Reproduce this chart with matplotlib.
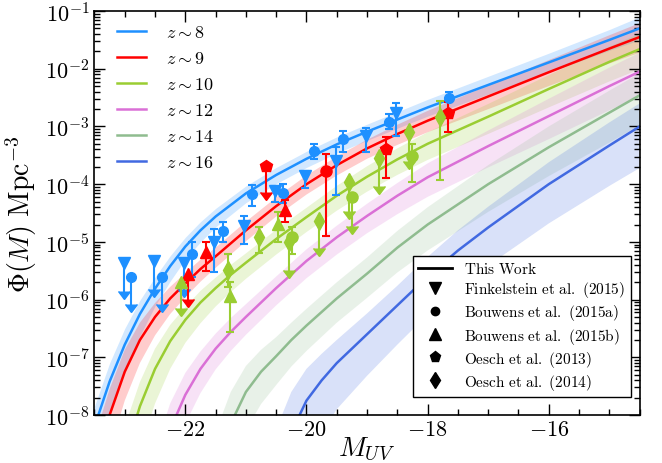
import numpy as np
import matplotlib
matplotlib.use("Agg")
import matplotlib.pyplot as plt
from matplotlib.lines import Line2D

plt.rcParams['mathtext.fontset'] = 'cm'
plt.rcParams['font.family'] = 'serif'
plt.rcParams['font.serif'] = ['cmr10', 'DejaVu Serif']
plt.rcParams['axes.formatter.use_mathtext'] = True

# ---- model curves (log10 Phi), band offsets in dex ----
m_z8 = [-23.5, -23.25, -23.0, -22.75, -22.5, -22.25, -22.0, -21.75, -21.5, -21.0, -20.5, -20.0, -19.5, -19.0, -18.0, -17.0, -16.0, -15.0, -14.5]
phi_z8 = [-8.2, -7.42, -6.78, -6.25, -5.81, -5.42, -5.08, -4.8, -4.56, -4.16, -3.84, -3.56, -3.31, -3.09, -2.67, -2.28, -1.89, -1.5, -1.3]
hi_z8 = [0.35, 0.32, 0.28, 0.24, 0.2, 0.18, 0.16, 0.15, 0.14, 0.13, 0.13, 0.13, 0.13, 0.13, 0.14, 0.15, 0.16, 0.18, 0.2]
lo_z8 = [0.6, 0.55, 0.45, 0.38, 0.3, 0.26, 0.22, 0.2, 0.18, 0.16, 0.15, 0.15, 0.15, 0.15, 0.15, 0.16, 0.17, 0.18, 0.2]

m_z9 = [-23.5, -23.25, -23.0, -22.75, -22.5, -22.25, -22.0, -21.75, -21.5, -21.0, -20.5, -20.0, -19.5, -19.0, -18.5, -18.0, -17.0, -16.0, -15.0, -14.5]
phi_z9 = [-8.9, -8.0, -7.25, -6.7, -6.3, -5.98, -5.72, -5.47, -5.25, -4.8, -4.38, -4.0, -3.67, -3.38, -3.13, -2.9, -2.48, -2.06, -1.65, -1.45]
hi_z9 = [0.5, 0.45, 0.38, 0.3, 0.24, 0.2, 0.18, 0.16, 0.15, 0.15, 0.15, 0.15, 0.15, 0.15, 0.16, 0.17, 0.19, 0.21, 0.23, 0.24]
lo_z9 = [0.7, 0.62, 0.5, 0.4, 0.32, 0.27, 0.24, 0.22, 0.2, 0.19, 0.18, 0.18, 0.18, 0.18, 0.19, 0.2, 0.22, 0.24, 0.26, 0.27]

m_z10 = [-23.25, -23.0, -22.75, -22.5, -22.25, -22.0, -21.75, -21.5, -21.25, -21.0, -20.5, -20.0, -19.5, -19.0, -18.5, -18.0, -17.0, -16.0, -15.0, -14.5]
phi_z10 = [-9.6, -8.7, -7.85, -7.2, -6.72, -6.35, -6.05, -5.8, -5.57, -5.36, -4.95, -4.57, -4.2, -3.87, -3.57, -3.3, -2.83, -2.35, -1.88, -1.66]
hi_z10 = [0.55, 0.5, 0.42, 0.35, 0.28, 0.22, 0.2, 0.18, 0.17, 0.16, 0.16, 0.16, 0.17, 0.18, 0.19, 0.2, 0.22, 0.24, 0.26, 0.27]
lo_z10 = [1.0, 0.9, 0.75, 0.6, 0.48, 0.4, 0.36, 0.32, 0.3, 0.28, 0.27, 0.26, 0.26, 0.26, 0.27, 0.28, 0.3, 0.32, 0.34, 0.35]

m_z12 = [-22.75, -22.5, -22.25, -22.0, -21.75, -21.5, -21.25, -21.0, -20.5, -20.0, -19.5, -19.0, -18.5, -18.0, -17.0, -16.0, -15.0, -14.5]
phi_z12 = [-10.0, -9.1, -8.25, -7.65, -7.2, -6.85, -6.56, -6.3, -5.8, -5.33, -4.92, -4.55, -4.2, -3.88, -3.34, -2.82, -2.3, -2.05]
hi_z12 = [0.6, 0.5, 0.45, 0.38, 0.3, 0.26, 0.24, 0.22, 0.2, 0.2, 0.2, 0.21, 0.22, 0.24, 0.27, 0.3, 0.32, 0.33]
lo_z12 = [0.8, 0.7, 0.6, 0.5, 0.42, 0.36, 0.33, 0.31, 0.3, 0.3, 0.3, 0.3, 0.32, 0.34, 0.37, 0.4, 0.42, 0.43]

m_z14 = [-21.75, -21.5, -21.25, -21.0, -20.75, -20.5, -20.25, -20.0, -19.5, -19.0, -18.5, -18.0, -17.0, -16.0, -15.0, -14.5]
phi_z14 = [-10.0, -9.0, -8.15, -7.6, -7.25, -6.98, -6.7, -6.45, -5.98, -5.55, -5.1, -4.7, -4.0, -3.36, -2.76, -2.46]
hi_z14 = [0.8, 0.7, 0.55, 0.45, 0.38, 0.33, 0.3, 0.29, 0.28, 0.28, 0.29, 0.3, 0.33, 0.36, 0.38, 0.38]
lo_z14 = [1.1, 0.95, 0.8, 0.66, 0.56, 0.5, 0.46, 0.44, 0.42, 0.42, 0.43, 0.45, 0.48, 0.5, 0.52, 0.52]

m_z16 = [-20.75, -20.5, -20.25, -20.0, -19.75, -19.5, -19.0, -18.5, -18.0, -17.5, -17.0, -16.0, -15.0, -14.5]
phi_z16 = [-10.0, -9.1, -8.3, -7.75, -7.4, -7.1, -6.6, -6.1, -5.6, -5.15, -4.75, -4.0, -3.33, -3.0]
hi_z16 = [1.0, 0.85, 0.7, 0.55, 0.46, 0.4, 0.36, 0.34, 0.34, 0.35, 0.36, 0.38, 0.4, 0.4]
lo_z16 = [1.8, 1.6, 1.35, 1.1, 0.92, 0.8, 0.72, 0.68, 0.66, 0.66, 0.66, 0.68, 0.7, 0.72]

# ---- observations (log10 Phi, errors in dex) ----
fink8_m = [-23.02, -22.51, -22.02, -21.52, -21.03, -20.52, -20.02, -19.52, -19.01, -18.52]
fink8_phi = [-5.36, -5.33, -5.36, -5.01, -4.72, -4.11, -3.85, -3.59, -3.16, -2.76]
fink8_hi = [0, 0, 0, 0.23, 0.17, 0.08, 0.08, 0.23, 0.14, 0.16]
fink8_lo = [0.63, 0.63, 0.6, 0.52, 0.32, 0.19, 0.21, 0.6, 0.29, 0.4]
fink8_ul = [True, True, True, False, False, False, False, False, False, False]

bouw8_m = [-22.89, -22.39, -21.89, -21.38, -20.9, -20.39, -19.88, -19.39, -18.63, -17.64]
bouw8_phi = [-5.6, -5.6, -5.21, -4.81, -4.17, -4.15, -3.42, -3.22, -2.92, -2.5]
bouw8_hi = [0, 0, 0.2, 0.15, 0.15, 0.15, 0.12, 0.15, 0.13, 0.1]
bouw8_lo = [0.62, 0.62, 0.4, 0.19, 0.2, 0.17, 0.14, 0.23, 0.13, 0.08]
bouw8_ul = [True, True, False, False, False, False, False, False, False, False]

oesch13_9_m = [-20.67, -18.68, -17.67]
oesch13_9_phi = [-3.68, -3.39, -2.76]
oesch13_9_hi = [0, 0.2, 0.19]
oesch13_9_lo = [0.6, 0.51, 0.34]
oesch13_9_ul = [True, False, False]

bouwb9_m = [-21.95, -21.66, -20.35]
bouwb9_phi = [-5.56, -5.18, -4.44]
bouwb9_hi = [0, 0.18, 0.17]
bouwb9_lo = [0.57, 0.32, 0.21]
bouwb9_ul = [True, False, False]

bouw9_m = [-19.67]
bouw9_phi = [-3.77]
bouw9_hi = [0.29]
bouw9_lo = [1.13]
bouw9_ul = [False]

bouwb10_m = [-22.07, -21.27, -20.47]
bouwb10_phi = [-5.69, -5.93, -4.69]
bouwb10_hi = [0, 0.23, 0.2]
bouwb10_lo = [0.6, 0.64, 0.31]
bouwb10_ul = [True, False, False]

oesch14_10_m = [-21.3, -20.79, -20.29, -19.8, -19.29, -18.8, -18.3, -17.8]
oesch14_10_phi = [-5.48, -4.92, -5.01, -4.63, -3.97, -3.54, -3.1, -2.84]
oesch14_10_hi = [0.27, 0.17, 0, 0, 0, 0, 0, 0.29]
oesch14_10_lo = [0.3, 0.27, 0.61, 0.61, 0.63, 0.63, 0.64, 1.08]
oesch14_10_ul = [False, False, True, True, True, True, True, False]

bouw10_m = [-20.24, -19.25, -18.25]
bouw10_phi = [-4.92, -4.23, -3.52]
bouw10_hi = [0.17, 0, 0.22]
bouw10_lo = [0.29, 0.63, 0.44]
bouw10_ul = [False, True, False]

c8, c9, c10 = '#1E90FF', '#FF0000', '#9ACD32'
c12, c14, c16 = '#DA70D6', '#8FBC8F', '#4169E1'

fig = plt.figure(figsize=(6.62, 4.64), dpi=100)
ax = fig.add_axes([0.1427, 0.1034, 0.8235, 0.8706])

curves = [(m_z8, phi_z8, hi_z8, lo_z8, c8, r'$z\sim8$'),
          (m_z9, phi_z9, hi_z9, lo_z9, c9, r'$z\sim9$'),
          (m_z10, phi_z10, hi_z10, lo_z10, c10, r'$z\sim10$'),
          (m_z12, phi_z12, hi_z12, lo_z12, c12, r'$z\sim12$'),
          (m_z14, phi_z14, hi_z14, lo_z14, c14, r'$z\sim14$'),
          (m_z16, phi_z16, hi_z16, lo_z16, c16, r'$z\sim16$')]

z_handles = []
for m, p, hi, lo, c, lab in curves:
    m = np.array(m); p = np.array(p)
    ax.fill_between(m, 10**(p + np.array(hi)), 10**(p - np.array(lo)),
                    color=c, alpha=0.2, lw=0)
    ln, = ax.plot(m, 10**p, color=c, lw=1.8, label=lab)
    z_handles.append(ln)


def points(m, p, hi, lo, ul, c, mk, ms):
    m = np.array(m); p = np.array(p)
    hi = np.array(hi); lo = np.array(lo); ul = np.array(ul)
    y = 10**p
    ylo = y - 10**(p - lo)
    yhi = 10**(p + hi) - y
    ok = ~ul
    if ok.any():
        ax.errorbar(m[ok], y[ok], yerr=[ylo[ok], yhi[ok]], fmt=mk, color=c,
                    ms=ms, elinewidth=1.5, capsize=3, capthick=1.5, zorder=5)
    if ul.any():
        ax.vlines(m[ul], 10**(p[ul] - lo[ul]), y[ul], color=c, lw=1.5, zorder=5)
        ax.plot(m[ul], 10**(p[ul] - lo[ul]), ls='none', marker=7, ms=8,
                color=c, zorder=5)
        ax.plot(m[ul], y[ul], ls='none', marker=mk, ms=ms, color=c, zorder=6)


points(fink8_m, fink8_phi, fink8_hi, fink8_lo, fink8_ul, c8, 'v', 9)
points(bouw8_m, bouw8_phi, bouw8_hi, bouw8_lo, bouw8_ul, c8, 'o', 7)
points(oesch13_9_m, oesch13_9_phi, oesch13_9_hi, oesch13_9_lo, oesch13_9_ul, c9, 'p', 9)
points(bouwb9_m, bouwb9_phi, bouwb9_hi, bouwb9_lo, bouwb9_ul, c9, '^', 9)
points(bouw9_m, bouw9_phi, bouw9_hi, bouw9_lo, bouw9_ul, c9, 'o', 8)
points(bouwb10_m, bouwb10_phi, bouwb10_hi, bouwb10_lo, bouwb10_ul, c10, '^', 9)
points(oesch14_10_m, oesch14_10_phi, oesch14_10_hi, oesch14_10_lo, oesch14_10_ul, c10, 'd', 9)
points(bouw10_m, bouw10_phi, bouw10_hi, bouw10_lo, bouw10_ul, c10, 'o', 8)

ax.set_yscale('log')
ax.set_xlim(-23.5, -14.5)
ax.set_ylim(1e-8, 1e-1)
ax.set_xticks([-22, -20, -18, -16])
ax.set_xticks(np.arange(-23.5, -14.4, 0.5), minor=True)
ax.tick_params(which='both', direction='in', top=True, right=True, labelsize=16)
ax.tick_params(which='major', length=8, width=1)
ax.tick_params(which='minor', length=4, width=1)
for s in ax.spines.values():
    s.set_linewidth(1.2)

ax.set_xlabel(r'$M_{UV}$', fontsize=20)
ax.xaxis.set_label_coords(0.5, -0.05)
ax.set_ylabel(r'$\Phi(M)\ \mathrm{Mpc}^{-3}$', fontsize=20, labelpad=4)

leg1 = ax.legend(handles=z_handles, loc='upper left', frameon=False, fontsize=13,
                 handlelength=1.6, handletextpad=1.1, labelspacing=0.55,
                 borderaxespad=0, bbox_to_anchor=(0.028, 0.985))
ax.add_artist(leg1)

src_handles = [Line2D([], [], color='k', lw=2),
               Line2D([], [], color='k', ls='none', marker='v', ms=8),
               Line2D([], [], color='k', ls='none', marker='o', ms=6),
               Line2D([], [], color='k', ls='none', marker='^', ms=8),
               Line2D([], [], color='k', ls='none', marker='p', ms=8),
               Line2D([], [], color='k', ls='none', marker='d', ms=8)]
src_labels = [r'$\mathrm{This\ Work}$',
              r'$\mathrm{Finkelstein\ et\ al.\ (2015)}$',
              r'$\mathrm{Bouwens\ et\ al.\ (2015a)}$',
              r'$\mathrm{Bouwens\ et\ al.\ (2015b)}$',
              r'$\mathrm{Oesch\ et\ al.\ (2013)}$',
              r'$\mathrm{Oesch\ et\ al.\ (2014)}$']
leg2 = ax.legend(src_handles, src_labels, loc='lower right', fontsize=11,
                 fancybox=False, edgecolor='k', framealpha=1,
                 handlelength=2.2, labelspacing=0.2, borderpad=0.35,
                 borderaxespad=0, bbox_to_anchor=(0.9835, 0.0446))
leg2.get_frame().set_linewidth(1.0)

fig.savefig('out.png', dpi=100)
